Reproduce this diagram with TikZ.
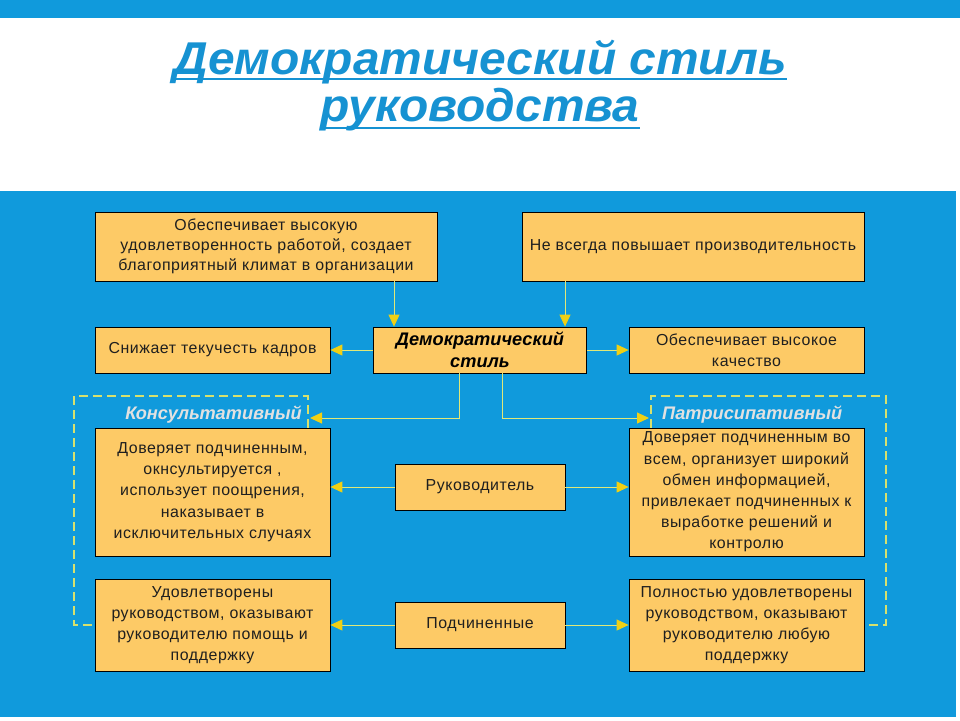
\documentclass[tikz,border=0pt]{standalone}
\usepackage{fontspec}
\setmainfont{Liberation Sans}
\newfontfamily\boxfont[LetterSpace=3.5]{Liberation Sans}
\usetikzlibrary{arrows.meta,calc}
\definecolor{bg}{RGB}{16,154,220}
\definecolor{boxfill}{RGB}{253,202,102}
\definecolor{ttl}{RGB}{22,146,210}
\definecolor{lnc}{RGB}{225,232,120}
\definecolor{tipc}{RGB}{240,208,20}
\definecolor{dashc}{RGB}{215,225,110}
\definecolor{lblc}{RGB}{225,225,225}
\begin{document}
\begin{tikzpicture}[x=1pt,y=-1pt,
  box/.style={draw=black, line width=0.8pt, fill=boxfill, align=center,
    font=\boxfont\fontsize{15.9}{21.2}\selectfont, text=black!88, inner sep=0pt},
  arr/.style={draw=lnc, line width=1pt, -{Triangle[length=12pt,width=11pt,color=tipc]}},
  dsh/.style={draw=dashc, line width=2pt, dash pattern=on 9pt off 5pt},
  lbl/.style={font=\bfseries\itshape\fontsize{18.2}{20}\selectfont, text=lblc, inner sep=0pt},
  ttlfont/.style={font=\bfseries\itshape\fontsize{46}{48}\selectfont, text=ttl, inner sep=0pt, anchor=base}]

\useasboundingbox (0,0) rectangle (960,720);
\fill[white] (0,0) rectangle (960,720);
\fill[bg] (0,0) rectangle (960,18);
\fill[bg] (0,191) rectangle (956,717);

% title
\node[ttlfont] (t1) at (480,74) {\scalebox{1.042}[1]{Демократический стиль}};
\node[ttlfont] (t2) at (480,121) {\scalebox{1.042}[1]{руководства}};
\draw[ttl, line width=2.6pt] ($(t1.base west)+(0,5)$) -- ($(t1.base east)+(0,5)$);
\draw[ttl, line width=2.6pt] ($(t2.base west)+(0,7)$) -- ($(t2.base east)+(0,7)$);

% boxes
\node[box, minimum width=342pt, minimum height=69pt,
  font=\boxfont\fontsize{15.9}{20.2}\selectfont] (B1) at (266,246.5)
  {Обеспечивает высокую\\удовлетворенность работой, создает\\благоприятный климат в организации};
\node[box, minimum width=342pt, minimum height=69pt] (B2) at (693,246.5)
  {Не всегда повышает производительность};
\node[box, minimum width=235pt, minimum height=46pt] (B3) at (212.5,350)
  {Снижает текучесть кадров};
\node[box, minimum width=213pt, minimum height=46pt, text=black,
  font=\bfseries\itshape\fontsize{18.2}{22}\selectfont] (C) at (480,350)
  {Демократический\\стиль};
\node[box, minimum width=235pt, minimum height=46pt] (B4) at (746.5,350)
  {Обеспечивает высокое\\качество};
\node[box, minimum width=235pt, minimum height=128pt] (B5) at (212.5,492)
  {Доверяет подчиненным,\\окнсультируется ,\\использует поощрения,\\наказывает в\\исключительных случаях};
\node[box, minimum width=170pt, minimum height=46pt] (R) at (480,487)
  {Руководитель};
\node[box, minimum width=235pt, minimum height=128pt] (B6) at (746.5,492)
  {Доверяет подчиненным во\\всем, организует широкий\\обмен информацией,\\привлекает подчиненных к\\выработке решений и\\контролю};
\node[box, minimum width=235pt, minimum height=92pt] (B7) at (212.5,625)
  {Удовлетворены\\руководством, оказывают\\руководителю помощь и\\поддержку};
\node[box, minimum width=170pt, minimum height=46pt] (P) at (480,625)
  {Подчиненные};
\node[box, minimum width=235pt, minimum height=92pt] (B8) at (746.5,625)
  {Полностью удовлетворены\\руководством, оказывают\\руководителю любую\\поддержку};

% dashed groups
\coordinate (dL1) at (308,396);
\coordinate (dL2) at (74,396);
\coordinate (dL3) at (74,625);
\coordinate (dR1) at (651,396);
\coordinate (dR2) at (886,396);
\coordinate (dR3) at (886,625);
\draw[dsh] (B5.north -| dL1) -- (dL1) -- (dL2) -- (dL3) -- (B7.west);
\draw[dsh] (B6.north -| dR1) -- (dR1) -- (dR2) -- (dR3) -- (B8.east);

\node[lbl, anchor=base east] (LK) at (302,419) {Консультативный};
\node[lbl, anchor=base west] (LP) at (662,419) {Патрисипативный};

% connectors
\coordinate (xa) at (394,0);
\coordinate (xb) at (565,0);
\coordinate (xc) at (459,0);
\coordinate (xd) at (502,0);
\coordinate (kl) at (310,418);
\coordinate (kr) at (649,418);
\draw[arr] (B1.south -| xa) -- (C.north -| xa);
\draw[arr] (B2.south -| xb) -- (C.north -| xb);
\draw[arr] (C.west) -- (B3.east);
\draw[arr] (C.east) -- (B4.west);
\draw[arr] (C.south -| xc) |- (kl);
\draw[arr] (C.south -| xd) |- (kr);
\draw[arr] (R.west) -- (R.west -| B5.east);
\draw[arr] (R.east) -- (R.east -| B6.west);
\draw[arr] (P.west) -- (P.west -| B7.east);
\draw[arr] (P.east) -- (P.east -| B8.west);
\end{tikzpicture}
\end{document}
